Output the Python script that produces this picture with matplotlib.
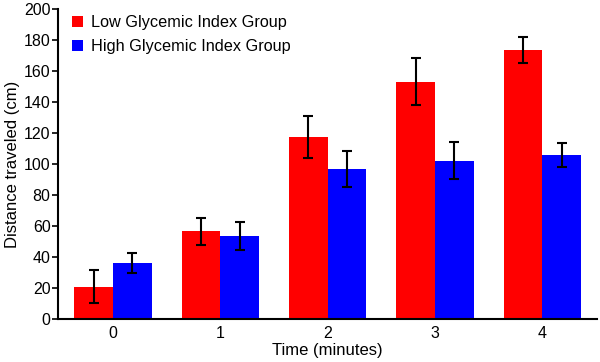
import matplotlib
matplotlib.use("Agg")
import matplotlib.pyplot as plt
import numpy as np

plt.rcParams['font.family'] = ['Liberation Sans', 'DejaVu Sans']

times = ["0", "1", "2", "3", "4"]
low_gi = [21, 56.8, 117.5, 153.2, 173.6]
low_err = [10.5, 8.6, 13.3, 15, 8.3]
high_gi = [36.4, 53.6, 96.9, 102.3, 106.1]
high_err = [6.5, 9, 11.3, 12, 7.7]
labels = ["Low Glycemic Index Group", "High Glycemic Index Group"]

fig = plt.figure(figsize=(6, 3.62), dpi=100)
ax = fig.add_axes([0.097, 0.118, 0.898, 0.857])

x = np.arange(len(times))
w = 0.36
ek = dict(ecolor='black', elinewidth=1.5, capsize=3.8, capthick=1.5)
ax.bar(x - w/2, low_gi, w, color='#ff0000', yerr=low_err, error_kw=ek, label=labels[0])
ax.bar(x + w/2, high_gi, w, color='#0000ff', yerr=high_err, error_kw=ek, label=labels[1])

ax.set_xlim(-0.51, 4.51)
ax.set_ylim(0, 200)
ax.set_yticks(np.arange(0, 201, 20))
ax.set_xticks(x)
ax.set_xticklabels(times)
ax.tick_params(axis='x', length=0, labelsize=11.5, pad=5)
ax.tick_params(axis='y', length=4, width=1.2, labelsize=11.5, pad=1.5)
for s in ['top', 'right']:
    ax.spines[s].set_visible(False)
for s in ['left', 'bottom']:
    ax.spines[s].set_linewidth(1.5)

ax.set_xlabel("Time (minutes)", fontsize=12, labelpad=1)
ax.set_ylabel("Distance traveled (cm)", fontsize=12, labelpad=3)
ax.legend(loc='upper left', frameon=False, fontsize=11.7, handlelength=0.65,
          handleheight=0.65, handletextpad=0.5, borderaxespad=0, borderpad=0,
          labelspacing=0.55, bbox_to_anchor=(0.026, 0.98))

fig.savefig("out.png", dpi=100)
